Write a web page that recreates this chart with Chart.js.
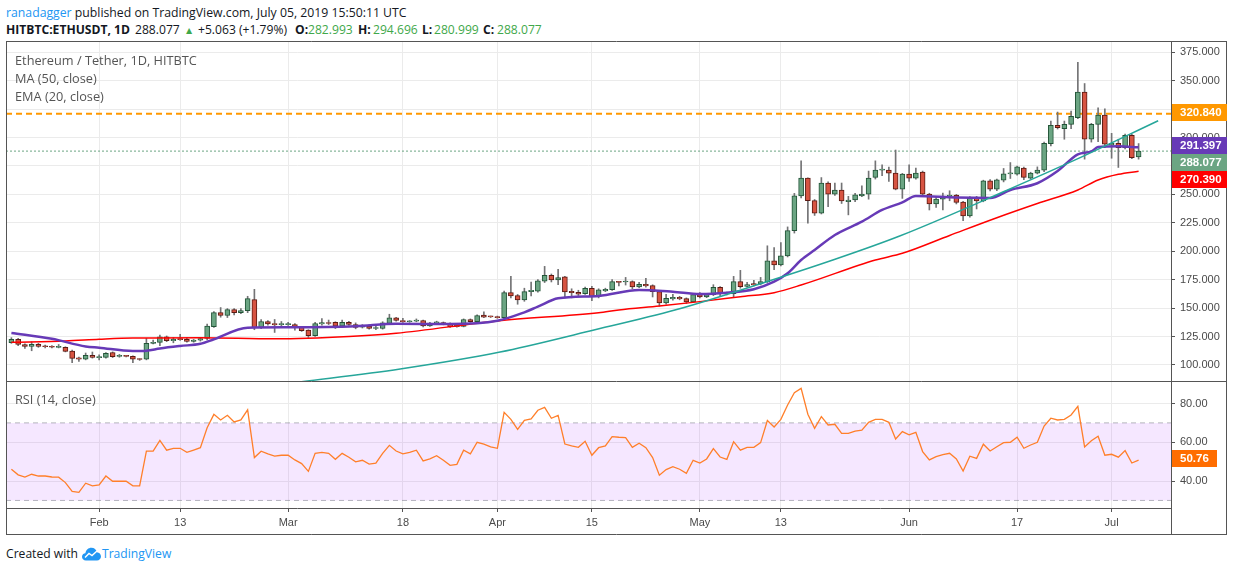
<!DOCTYPE html>
<html>
<head>
<meta charset="utf-8">
<script src="https://cdn.jsdelivr.net/npm/chart.js@4.4.1/dist/chart.umd.min.js"></script>
<style>
  html, body { margin:0; padding:0; background:#fff; }
  body { width:1234px; height:572px; position:relative; overflow:hidden; font-family:"Open Sans","Noto Sans",sans-serif; }
  .t { position:absolute; white-space:nowrap; line-height:1.2; transform:translateY(-50%); z-index:5; }
  #mainWrap { position:absolute; left:0; top:41px; width:1234px; height:340px; }
  #rsiWrap { position:absolute; left:0; top:381px; width:1234px; height:154px; }
</style>
</head>
<body>
<div id="mainWrap"><canvas id="mainChart"></canvas></div>
<div id="rsiWrap"><canvas id="rsiChart"></canvas></div>

<div id="h1" class="t" style="left:6px;top:12.5px;font-size:13px;color:#131722"><span style="color:#2196f3">ranadagger</span> published on TradingView.com, July 05, 2019 15:50:11 UTC</div>
<div id="h2"></div>

<div id="lg1" class="t" style="left:15px;top:61px;font-size:13px;color:#555">Ethereum / Tether, 1D, HITBTC</div>
<div id="lg2" class="t" style="left:15px;top:79px;font-size:13px;color:#555">MA (50, close)</div>
<div id="lg3" class="t" style="left:15px;top:97px;font-size:13px;color:#555">EMA (20, close)</div>
<div id="lg4" class="t" style="left:15px;top:400px;font-size:13px;color:#555">RSI (14, close)</div>

<div id="ft1" class="t" style="left:6px;top:554px;font-size:13px;color:#131722">Created with</div>
<svg style="position:absolute;left:82px;top:547px" width="19" height="14" viewBox="0 0 19 14">
  <path d="M4 13.5 C1.5 13.5 0 11.8 0 9.8 C0 7.8 1.5 6.3 3.4 6.2 C3.9 3 6.4 0.8 9.4 0.8 C12.3 0.8 14.4 2.8 14.9 5.2 C17.3 5.3 19 7.2 19 9.5 C19 11.8 17.2 13.5 15 13.5 Z" fill="#2196f3"/>
  <polyline points="3,10.5 7,6.5 10,8.5 15,4" stroke="#fff" stroke-width="1.4" fill="none"/>
</svg>
<div id="ft2" class="t" style="left:102px;top:554px;font-size:13px;color:#2196f3">TradingView</div>

<script>
// ---------- DATA ----------
// Daily candles, Jan 19 2019 (index 0) .. Jul 05 2019 (index 167)
const open = [
 119.5,122.5,118,116.3,118.1,116.5,116.3,115.5,115.5,112.3,
 106.2,105,108.5,106.5,106.7,111,107.5,107.8,107.5,105,
 105,119,119.8,124.8,121.3,122.5,122.5,120.7,121.9,123.4,
 133.6,146.1,143.5,148.7,146.1,147.8,157.5,133,138.2,136.5,
 135.5,135.5,135.6,133.3,130.6,125.7,136,137.2,137.5,134.1,
 137.5,135.6,133.3,134.1,132.1,132.1,136.5,141.4,139.1,138,
 138.5,139.1,134.4,137,137.3,136.5,133.6,133.9,140,138,
 143.8,142.5,142,141.5,163.6,161,157.2,164.5,165,173.8,
 178.8,174.7,177.6,164.8,163.9,162.7,167.4,160.1,165.1,166.3,
 173.3,173,173.3,168.6,170.9,169.8,164.5,154.6,158,159.5,
 158.4,155.5,161.9,159.8,161.9,168.3,163.6,162.7,173.3,169,
 171.5,171.2,173.3,191.6,187.9,196,218.2,248.7,264.3,244.5,
 233.6,260,250.3,253.8,243.5,245.1,248.6,250.3,264.9,271.3,
 271.3,268.7,254.7,267.8,264.3,269.6,250.3,241.6,245.9,248.6,
 249.4,243.3,231.1,246.8,244.2,262,254.7,262.6,268.1,267.8,
 273.1,264.3,268.7,271.3,294.7,310.7,307.8,311.6,317.4,339.9,
 298.5,311.6,319.8,293.5,295,291.2,302,282.993];
const high = [
 124,123.5,118.5,120.4,119,117.5,117,118,116,113,
 107,110.5,111.4,109,111,111.5,109.3,108.5,108,105.5,
 123.4,121.9,126.3,125.5,124.2,127,124,122.5,124,135.9,
 147,150.5,149.6,149.6,149.6,160.4,166.5,140,139,140,
 138.2,137.5,136.5,134,131,137.5,140.8,139.5,138,139.5,
 138.3,137,135.5,135,134,138,144.6,142,141,139,
 140.5,139.5,137.5,138.5,137.8,137,135.2,140.5,140.5,144,
 146.7,143,143,165,178,162,167.5,173,175,186.7,
 180,184,178,167,165.7,168.5,169.2,167,167.5,175,
 173.5,177,174,172.7,176.2,170.5,165,162.2,162.2,160.4,
 159,162.5,163.6,163,170.6,169,164,177.9,183.2,172.7,
 174.4,177,204.8,203.3,207.7,221.4,250.9,279.5,264.5,245.5,
 264.8,261,260,260,248.3,251,257.5,270.5,279.5,276,
 274,289,268.5,276,273.1,270.5,251,248,251.2,253.2,
 250,244,248,248.3,262.5,263,263.5,272.8,278,275,
 274,269.5,274.2,296,314.5,322.4,314.5,323.3,366.2,347.5,
 312.5,326.2,325.3,303.7,298.5,303,302.9,294.696];
const low = [
 119,117,114.6,112.5,115.5,115,115,115,111.5,102,
 103.2,104.5,106,104.4,106,106.5,106.8,107,102,104,
 104.5,118.5,117,120.5,119.5,121.5,120,120,121,122,
 133,142,141.7,144,145.2,146,131,132,135,128.6,
 133.6,134.8,130.6,129.5,124.2,125,135,135.5,132,133,
 134.8,131.8,132.5,131.5,131,131.5,135.5,138.5,137.5,137.5,
 138,133.5,134,136,135.3,133,133.3,133.5,137.5,137.5,
 141.5,141.7,141,141,159,153.4,156,160.7,164,172.5,
 173,170.6,159,159,161,162,156.6,159,164.5,165.5,
 169.5,170.3,167,168,168.5,159.8,151.7,153.5,157,157.3,
 154,155,159,159.2,161,160.7,161.5,159.8,167.5,168.5,
 169.5,170.5,172.5,183.8,187,195,216,247,224.6,231.5,
 232.8,239.2,249,242,232,243.5,248,245.8,263.5,266.5,
 261.4,254,246.5,261.4,263.5,249,236.3,238.6,236.3,244.4,
 241.6,227,230,237.2,243.5,253,253.2,261,264,267,
 262.9,263.5,268,270,292.6,307.5,298.5,307.8,316.5,281,
 296,296.4,291,281.8,273.7,290,281.5,280.999];
const close = [
 122.5,118,116.3,118.1,116.3,116,115.6,115.8,112,105.8,
 105,108.5,106.7,107,110.2,107.3,107.8,107.5,105,104.8,
 119,120,124.8,121.3,122.5,122.3,120.7,121.9,123.3,134.1,
 146.1,143.5,148.7,146.1,147.8,158.4,132.7,138.2,136.2,135.3,
 135.7,135.8,133.3,130.1,125.7,136.5,137.2,136.5,134.1,137.5,
 135.6,133,134.1,132.1,132.7,137,141.4,139.1,138,138.3,
 139.1,134.4,136.8,137.5,135.9,133.6,134.8,140,138,143.5,
 142,142.3,141.7,163.6,160.7,157.2,164.5,165.7,174.1,178.8,
 174.7,176.8,164.2,163.6,162.2,167.4,160.1,166,166.6,173.3,
 172.7,173.3,168.6,170.9,169.5,164.5,154.6,158.7,159.5,158,
 155.5,161.9,159.8,161.9,168.3,163.3,162.5,173.3,168.9,170.6,
 170.3,173.3,191.6,187.9,196,218.2,248.7,264.3,244.5,233.6,
 260,250.3,253.8,244.3,245.1,249.6,250.3,264.3,271.3,271.6,
 268.7,254.7,267.8,264.3,268.7,250.3,241.6,245.9,248.6,249.4,
 243,231.1,246.8,244.2,262,254.7,262.9,268.1,268.4,274.2,
 264.9,268.7,271.3,295,310.7,308.7,311.6,318.6,339.9,298.5,
 311.6,319.8,294.1,295,291.2,302,282.4,288.077];

// EMA (20) at sample bars
const emaIdx = [0,6,11,13,18,20,22,25,28,30,35,41,51,57,65,72,76,78,81,87,93,98,102,106,110,113,115,117,119,122,126,129,132,134,140,145,148,152,155,158,160,161,164,167];
const emaVal = [128.2,123.0,116.3,115.2,112.3,112.6,114.5,116.7,118.6,122.6,132.8,133.1,134.0,136.2,136.0,138.9,146.3,151.3,158.6,160.7,165.9,164.4,162.4,163.6,166.6,173.2,180.6,192.3,201.1,214.3,226.0,236.3,243.0,248.6,247.3,246.9,253.9,259.8,270.5,285.3,287.8,291.6,292.3,291.397];

// MA (50) at sample bars
const maIdx = [0,8,13,18,28,39,50,57,72,87,90,96,102,108,113,117,128,132,139,146,152,158,161,164,167];
const maVal = [119.9,121.1,122.6,123.7,124.0,123.0,125.0,127.9,138.7,146.0,148.4,151.9,155.7,160.0,163.6,170.3,192.3,198.2,213.9,229.5,242.0,253.9,262.7,267.7,270.39];

// hand-drawn curve (support)
const curveIdx = [42,57.6,72.4,85.7,98.3,111.9,121.7,131.6,147.6,157.6,169.9];
const curveVal = [84.5,96.5,111.4,129.9,148.3,173.2,192.3,213.4,253.9,280.3,314.8];

const resistance = 320.84;
const lastPrice = 288.077;
const lastEma = 291.397;
const lastMa = 270.39;

// RSI (14)
const rsi = [
 46.1,43.2,42.0,43.5,42.6,42.6,42.1,42.0,39.2,34.7,
 34.2,38.9,37.5,38.0,42.6,39.9,39.9,39.9,37.5,37.5,
 55.4,55.4,61.0,55.9,56.9,56.9,54.8,56.0,57.2,67.5,
 74.4,71.5,73.9,70.5,71.5,76.7,52.1,55.4,54.0,52.9,
 53.3,53.3,50.9,49.0,45.0,54.3,54.8,54.3,51.2,54.3,
 52.3,49.9,50.7,48.7,49.2,54.3,58.4,55.5,54.0,54.8,
 55.9,50.4,51.4,53.1,50.7,48.1,48.6,55.9,54.0,60.0,
 59.0,57.6,56.9,75.4,71.8,66.7,71.3,72.0,76.5,78.0,
 72.4,73.9,59.1,58.1,57.4,60.5,53.3,57.2,58.1,62.9,
 62.6,62.4,57.4,59.5,57.2,52.1,43.0,45.9,47.4,46.1,
 44.0,50.7,49.3,51.4,56.7,52.4,51.2,60.3,55.9,57.4,
 57.4,59.8,71.2,67.9,71.8,79.2,85.6,87.8,74.5,67.2,
 73.2,68.9,69.3,64.6,64.6,65.8,66.3,70.3,71.8,71.8,
 70.3,61.7,65.5,63.8,65.1,55.2,50.9,52.6,53.6,54.3,
 51.4,45.2,52.8,51.7,59.0,55.5,57.7,59.8,60.0,62.6,
 56.9,58.6,60.0,68.4,72.4,71.5,71.8,74.1,78.5,57.6,
 60.8,63.1,53.3,53.8,52.3,55.7,49.3,50.76];
const rsiUpper = 70, rsiLower = 30;

// axis ticks
const tickIdx = [13,25,41,58,72,86,102,114,133,149,163];
const tickLabels = ['Feb','13','Mar','18','Apr','15','May','13','Jun','17','Jul'];
const priceTicks = [100,125,150,175,200,225,250,275,300,325,350,375];
const rsiTicks = [40,60,80];

// ---------- STYLE / LAYOUT ----------
const X_MIN = -0.8, X_MAX = 171.8;
const GRID = '#ebebeb', FRAME = '#555555', AXIS_TXT = '#4a4a4a';
const UP = '#6ba583', UP_B = '#225437', DN = '#d75442', DN_B = '#5b1a13';
Chart.defaults.font.family = '"Liberation Sans", Arial, sans-serif';
Chart.defaults.font.size = 11;
Chart.defaults.color = AXIS_TXT;

const pts = (xs, ys) => xs.map((x, i) => ({ x, y: ys[i] }));
const hline = v => [{ x: X_MIN, y: v }, { x: X_MAX, y: v }];
const idx = open.map((_, i) => i);

const framePlugin = {
  id: 'frame',
  afterDraw(chart, args, o) {
    const c = chart.ctx, a = chart.chartArea, H = chart.height;
    c.save();
    c.strokeStyle = FRAME; c.lineWidth = 1;
    c.beginPath();
    c.moveTo(6.5, 0); c.lineTo(6.5, H);
    c.moveTo(1226.5, 0); c.lineTo(1226.5, H);
    c.moveTo(6, 0.5); c.lineTo(1227, 0.5);
    if (o.bottom) { c.moveTo(6, H - 0.5); c.lineTo(1227, H - 0.5); c.moveTo(Math.round(a.right) + 0.5, a.bottom); c.lineTo(Math.round(a.right) + 0.5, H); }
    c.stroke();
    c.restore();
  }
};

const boxPlugin = {
  id: 'boxes',
  afterDraw(chart, args, o) {
    const ys = chart.scales.y, a = chart.chartArea, c = chart.ctx;
    const items = o.items.map(it => Object.assign({}, it, { py: ys.getPixelForValue(it.v) })).sort((p, q) => p.py - q.py);
    let prev = -1e9;
    c.save();
    items.forEach(it => {
      const y = Math.max(it.py, prev + o.h); prev = y;
      const top = Math.round(y - o.h / 2 - 1.5);
      c.fillStyle = it.color;
      c.fillRect(a.right + 1, top, o.w, o.h);
      c.fillStyle = '#ffffff';
      c.font = 'bold 11.5px "Liberation Sans", Arial, sans-serif';
      c.textBaseline = 'middle';
      c.fillText(it.text, a.right + 9, top + o.h / 2 + 0.5);
    });
    c.restore();
  }
};

const xScaleBase = {
  type: 'linear', min: X_MIN, max: X_MAX, offset: false,
  afterBuildTicks: s => { s.ticks = tickIdx.map(v => ({ value: v })); },
};

new Chart(document.getElementById('mainChart'), {
  type: 'bar',
  data: {
    datasets: [
      { type: 'line', data: pts(curveIdx, curveVal), borderColor: '#26a69a', borderWidth: 1.5, pointRadius: 0, cubicInterpolationMode: 'monotone', clip: 0, order: 0 },
      { type: 'line', data: pts(emaIdx, emaVal), borderColor: '#673ab7', borderWidth: 2.5, pointRadius: 0, cubicInterpolationMode: 'monotone', clip: 0, order: 1 },
      { type: 'line', data: pts(maIdx, maVal), borderColor: '#ff0000', borderWidth: 1.5, pointRadius: 0, cubicInterpolationMode: 'monotone', clip: 0, order: 2 },
      { type: 'bar', data: idx.map(i => ({ x: i, y: [open[i], close[i]] })),
        backgroundColor: idx.map(i => close[i] >= open[i] ? UP : DN),
        borderColor: idx.map(i => close[i] >= open[i] ? UP_B : DN_B),
        borderWidth: 1, borderSkipped: false, barThickness: 5, minBarLength: 1, grouped: false, order: 3 },
      { type: 'bar', data: idx.map(i => ({ x: i, y: [low[i], high[i]] })),
        backgroundColor: '#737375', borderWidth: 0, barThickness: 1, grouped: false, order: 4 },
      { type: 'line', data: hline(resistance), borderColor: '#ff9800', borderWidth: 2, borderDash: [6, 4], pointRadius: 0, clip: 0, order: 5 },
      { type: 'line', data: hline(lastPrice), borderColor: UP, borderWidth: 1, borderDash: [2, 2], pointRadius: 0, clip: 0, order: 6 }
    ]
  },
  options: {
    responsive: true, maintainAspectRatio: false, animation: false,
    layout: { padding: { left: 6, right: 7, top: 0, bottom: 0 } },
    plugins: { legend: { display: false }, tooltip: { enabled: false },
      boxes: { h: 17, w: 55, items: [
        { v: resistance, color: '#ff9800', text: resistance.toFixed(3) },
        { v: lastEma, color: '#673ab7', text: lastEma.toFixed(3) },
        { v: lastPrice, color: UP, text: lastPrice.toFixed(3) },
        { v: lastMa, color: '#ff0000', text: lastMa.toFixed(3) } ] },
      frame: { bottom: false } },
    scales: {
      x: Object.assign({}, xScaleBase, {
        grid: { color: GRID, drawTicks: false, offset: false },
        border: { display: false },
        ticks: { display: false },
        afterFit: s => { s.height = 0; s.paddingLeft = 0; s.paddingRight = 0; }
      }),
      y: {
        position: 'right', min: 85.9, max: 384.9,
        afterBuildTicks: s => { s.ticks = priceTicks.map(v => ({ value: v })); },
        ticks: { callback: v => Number(v).toFixed(3), padding: 5, color: AXIS_TXT },
        grid: { color: GRID, tickColor: FRAME, tickLength: 4 },
        border: { display: true, color: FRAME },
        afterFit: s => { s.width = 56; s.paddingTop = 0; s.paddingBottom = 0; }
      }
    }
  },
  plugins: [framePlugin, boxPlugin]
});

new Chart(document.getElementById('rsiChart'), {
  type: 'line',
  data: {
    datasets: [
      { data: pts(idx, rsi), borderColor: '#ff7f2a', borderWidth: 1.3, pointRadius: 0, tension: 0, clip: 0, order: 0 },
      { data: hline(rsiUpper), borderColor: 'rgba(120,123,134,0.55)', borderWidth: 1, borderDash: [5, 4], pointRadius: 0, fill: false, clip: 0, order: 1 },
      { data: hline(rsiLower), borderColor: 'rgba(120,123,134,0.55)', borderWidth: 1, borderDash: [5, 4], pointRadius: 0, fill: '-1', backgroundColor: 'rgba(153,21,255,0.1)', clip: 0, order: 2 }
    ]
  },
  options: {
    responsive: true, maintainAspectRatio: false, animation: false,
    layout: { padding: { left: 6, right: 7, top: 0, bottom: 0 } },
    plugins: { legend: { display: false }, tooltip: { enabled: false },
      boxes: { h: 17, w: 45, items: [ { v: rsi[rsi.length - 1], color: '#ff6d00', text: rsi[rsi.length - 1].toFixed(2) } ] },
      frame: { bottom: true } },
    scales: {
      x: Object.assign({}, xScaleBase, {
        grid: { color: GRID, tickColor: FRAME, tickLength: 4, offset: false },
        border: { display: true, color: FRAME },
        ticks: { callback: v => { const k = tickIdx.indexOf(v); return k >= 0 ? tickLabels[k] : ''; }, padding: 4, maxRotation: 0, autoSkip: false, color: AXIS_TXT },
        afterFit: s => { s.height = 27; s.paddingLeft = 0; s.paddingRight = 0; }
      }),
      y: {
        position: 'right', min: 26.1, max: 91.6,
        afterBuildTicks: s => { s.ticks = rsiTicks.map(v => ({ value: v })); },
        ticks: { callback: v => Number(v).toFixed(2), padding: 5, color: AXIS_TXT },
        grid: { color: GRID, tickColor: FRAME, tickLength: 4 },
        border: { display: true, color: FRAME },
        afterFit: s => { s.width = 56; s.paddingTop = 0; s.paddingBottom = 0; }
      }
    }
  },
  plugins: [framePlugin, boxPlugin]
});

// ---------- TEXT ----------
function fit(el, w) {
  const r = el.getBoundingClientRect().width;
  const fs = parseFloat(getComputedStyle(el).fontSize);
  const n = fs * w / r;
  el.style.fontSize = n + 'px';
  return n;
}
const GREEN_TXT = '#3fa84a';
const hdr2 = [
  { t: 'HITBTC:ETHUSDT, 1D', x: 6, b: true, c: '#131722' },
  { t: '288.077', x: 135, b: false, c: '#131722' },
  { t: '\u25B2', x: 184, b: false, c: GREEN_TXT, s: 0.85 },
  { t: '+5.063 (+1.79%)', x: 198, b: false, c: '#131722' },
  { t: 'O:', x: 295, b: true, c: '#131722' },
  { t: '282.993', x: 308, b: false, c: GREEN_TXT },
  { t: 'H:', x: 358, b: true, c: '#131722' },
  { t: '294.696', x: 373, b: false, c: GREEN_TXT },
  { t: 'L:', x: 422, b: true, c: '#131722' },
  { t: '280.999', x: 434, b: false, c: GREEN_TXT },
  { t: 'C:', x: 483, b: true, c: '#131722' },
  { t: '288.077', x: 497, b: false, c: GREEN_TXT }
];
const h2 = document.getElementById('h2');
const h2els = hdr2.map(p => {
  const d = document.createElement('div');
  d.className = 't';
  d.textContent = p.t;
  d.style.left = p.x + 'px'; d.style.top = '30px';
  d.style.fontSize = '13px'; d.style.fontWeight = p.b ? 'bold' : 'normal'; d.style.color = p.c;
  h2.appendChild(d);
  return d;
});
const fs2 = fit(h2els[0], 124);
h2els.forEach((d, i) => { d.style.fontSize = (fs2 * (hdr2[i].s || 1)) + 'px'; });

fit(document.getElementById('h1'), 401);
const fsl = fit(document.getElementById('lg1'), 182);
['lg2', 'lg3', 'lg4'].forEach(id => { document.getElementById(id).style.fontSize = fsl + 'px'; });
const fsf = fit(document.getElementById('ft1'), 72);
document.getElementById('ft2').style.fontSize = fsf + 'px';
</script>
</body>
</html>
